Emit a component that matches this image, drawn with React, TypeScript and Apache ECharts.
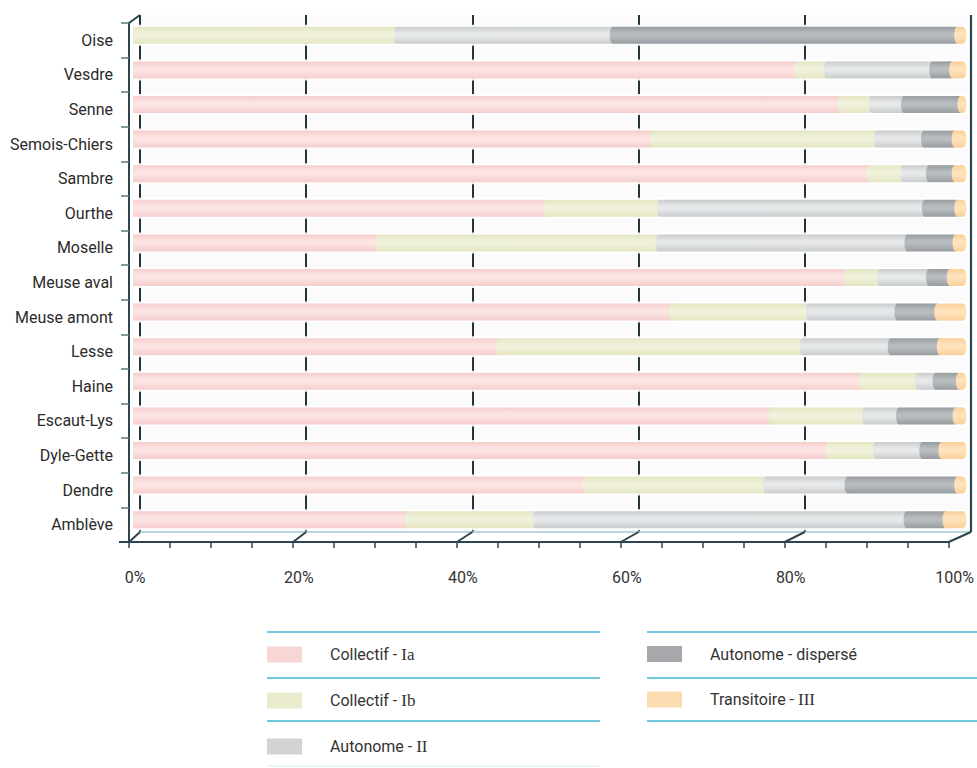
import React, { useEffect, useRef } from "react";
import * as echarts from "echarts";

// ---------- data (bottom to top) ----------
const categories = [
  "Amblève", "Dendre", "Dyle-Gette", "Escaut-Lys", "Haine", "Lesse", "Meuse amont",
  "Meuse aval", "Moselle", "Ourthe", "Sambre", "Semois-Chiers", "Senne", "Vesdre", "Oise",
];
const collectifIa = [33.1, 54.5, 83.8, 76.9, 87.8, 44.1, 64.9, 86.0, 29.6, 49.8, 88.7, 62.6, 85.2, 80.0, 0];
const collectifIb = [15.4, 21.8, 5.7, 11.3, 6.8, 36.6, 16.5, 4.0, 33.7, 13.7, 4.1, 27.0, 3.8, 3.6, 31.8];
const autonomeII = [44.7, 9.8, 5.6, 4.1, 2.1, 10.6, 10.7, 5.9, 30.0, 31.9, 3.1, 5.7, 3.9, 12.7, 26.0];
const autonomeDisperse = [4.7, 13.2, 2.3, 6.8, 2.8, 5.9, 4.8, 2.5, 5.8, 3.9, 3.1, 3.7, 6.8, 2.4, 41.5];
const transitoireIII = [2.1, 0.7, 2.6, 0.9, 0.5, 2.8, 3.1, 1.6, 0.9, 0.7, 1.0, 1.0, 0.3, 1.3, 0.7];
const seriesNames = ["Collectif - Ia", "Collectif - Ib", "Autonome - II", "Autonome - dispersé", "Transitoire - III"];
const xTickValues = [0, 20, 40, 60, 80, 100];

// ---------- styles ----------
const LEGEND_COLORS = ["#f8d6d6", "#e9ebcc", "#d3d3d4", "#a6a8ab", "#fddbb0"];
const SHADES = [
  { edge: "#f6cdcd", mid: "#fce4e4" },
  { edge: "#e4e6c2", mid: "#f0f1da" },
  { edge: "#c9ccce", mid: "#e6e8e9" },
  { edge: "#979ca0", mid: "#b8bcbf" },
  { edge: "#fbcf98", mid: "#fee2bd" },
];
const FRONT = { left: 129, top: 23, width: 832, height: 519 };
const BACK = { left: 140, top: 15, width: 831, height: 517 };
const BARS = { left: 133, top: 18, width: 830, height: 519 };
const BAR_H = 17;
const DARK = "#2c4550";
const FONT = "Roboto";

function shadeFill(i: number) {
  const s = SHADES[i];
  return new echarts.graphic.LinearGradient(0, 0, 0, 1, [
    { offset: 0, color: s.edge },
    { offset: 0.38, color: s.mid },
    { offset: 0.55, color: s.mid },
    { offset: 1, color: s.edge },
  ]);
}

function makeRender(layer: number, last: boolean) {
  return (_params: any, api: any) => {
    const cat = api.value(0);
    const v0 = api.value(1);
    const v1 = api.value(2);
    const a = api.coord([v0, cat]);
    const b = api.coord([v1, cat]);
    const w = b[0] - a[0];
    if (!(w > 0)) return { type: "group", children: [] };
    const cy = a[1];
    const fill = shadeFill(layer);
    const children: any[] = [
      { type: "rect", shape: { x: a[0], y: cy - BAR_H / 2, width: w, height: BAR_H }, style: { fill } },
    ];
    if (v0 > 0) {
      children.push({ type: "ellipse", shape: { cx: a[0], cy, rx: 3, ry: BAR_H / 2 }, style: { fill } });
    }
    if (last) {
      children.push({ type: "ellipse", shape: { cx: b[0], cy, rx: 3.5, ry: BAR_H / 2 }, style: { fill } });
    }
    return { type: "group", children };
  };
}

function renderHalo(_params: any, api: any) {
  const cat = api.value(0);
  const a = api.coord([api.value(1), cat]);
  const b = api.coord([api.value(2), cat]);
  return {
    type: "rect",
    shape: { x: a[0] - 2, y: a[1] - BAR_H / 2 - 2, width: b[0] - a[0] + 7, height: BAR_H + 4, r: 3 },
    style: { fill: "rgba(255,255,255,0.92)" },
  };
}

function legendFormatter(name: string) {
  const m = name.match(/^(.* - )([IV]+[a-z]?)$/);
  return m ? `${m[1]}{s|${m[2]}}` : name;
}

export default function App() {
  const ref = useRef<HTMLDivElement>(null);
  useEffect(() => {
    if (!ref.current) return;
    const chart = echarts.init(ref.current, null, { renderer: "svg" });
    const layers = [collectifIa, collectifIb, autonomeII, autonomeDisperse, transitoireIII];
    const starts = categories.map(() => 0);
    const layerData = layers.map((arr) =>
      arr.map((v, i) => {
        const s = starts[i];
        starts[i] = s + v;
        return [i, s, s + v];
      })
    );
    const haloData = categories.map((_, i) => [i, 0, starts[i]]);

    const legendBase = {
      orient: "vertical",
      padding: 0,
      itemWidth: 35,
      itemHeight: 16,
      itemGap: 29,
      icon: "rect",
      selectedMode: false,
      formatter: legendFormatter,
      textStyle: {
        fontFamily: FONT,
        fontSize: 16,
        color: "#333",
        lineHeight: 16,
        padding: [0, 0, 0, 23],
        rich: { s: { fontFamily: "Liberation Serif", fontSize: 17, color: "#333", lineHeight: 16 } },
      },
    };

    const option: any = {
      animation: false,
      backgroundColor: "#ffffff",
      textStyle: { fontFamily: FONT },
      grid: [
        { ...FRONT },
        { ...BACK, show: true, backgroundColor: "#fbfbfb", borderWidth: 0 },
        { ...BARS },
      ],
      xAxis: [
        {
          gridIndex: 0, type: "value", min: 0, max: 100, interval: 20,
          axisLine: { show: true, lineStyle: { color: DARK, width: 2 } },
          axisTick: { show: true, length: 6, lineStyle: { color: DARK, width: 1.5 } },
          minorTick: { show: true, splitNumber: 4, length: 6, lineStyle: { color: DARK, width: 1.5 } },
          splitLine: { show: false },
          axisLabel: { formatter: "{value}%", margin: 27, fontSize: 16, color: "#333", padding: [0, 0, 0, 12] },
        },
        {
          gridIndex: 1, type: "value", min: 0, max: 100, interval: 20,
          axisLine: { show: true, lineStyle: { color: "#a6c9d4", width: 1.5 } },
          axisTick: { show: false }, axisLabel: { show: false },
          splitLine: { show: true, showMaxLine: false, lineStyle: { color: "#24343b", width: 2 } },
        },
        { gridIndex: 2, type: "value", min: 0, max: 100, show: false },
      ],
      yAxis: [
        {
          gridIndex: 0, type: "category", data: categories,
          axisLine: { show: true, lineStyle: { color: DARK, width: 2 } },
          axisTick: { show: true, length: 8, lineStyle: { color: "#5c7782", width: 1.5 } },
          axisLabel: { margin: 16, fontSize: 16, color: "#2b2b2b", padding: [4, 0, 0, 0] },
        },
        { gridIndex: 1, type: "category", data: categories, show: false },
        { gridIndex: 2, type: "category", data: categories, show: false },
      ],
      legend: [
        {
          ...legendBase, left: 267, top: 646,
          data: seriesNames.slice(0, 3).map((n, i) => ({ name: n, itemStyle: { color: LEGEND_COLORS[i] } })),
        },
        {
          ...legendBase, left: 647, top: 646,
          data: seriesNames.slice(3).map((n, i) => ({ name: n, itemStyle: { color: LEGEND_COLORS[i + 3] } })),
        },
      ],
      series: [
        {
          type: "custom", name: "halo", xAxisIndex: 2, yAxisIndex: 2, silent: true,
          renderItem: renderHalo, data: haloData, encode: { x: [1, 2], y: 0 }, z: 3,
        },
        ...seriesNames.map((name, k) => ({
          type: "custom", name, xAxisIndex: 2, yAxisIndex: 2,
          itemStyle: { color: LEGEND_COLORS[k] },
          renderItem: makeRender(k, k === seriesNames.length - 1),
          data: layerData[k], encode: { x: [1, 2], y: 0 }, z: 4,
        })),
      ],
    };
    chart.setOption(option);

    const fx = (v: number) => chart.convertToPixel({ xAxisIndex: 0 }, v) as number;
    const bx = (v: number) => chart.convertToPixel({ xAxisIndex: 1 }, v) as number;
    const fBottom = FRONT.top + FRONT.height;
    const bBottom = BACK.top + BACK.height;
    const lineEl = (x1: number, y1: number, x2: number, y2: number, color: string, width: number) => ({
      type: "line", silent: true, z: 10,
      shape: { x1, y1, x2, y2 },
      style: { stroke: color, lineWidth: width },
    });
    const graphics: any[] = [];
    xTickValues.forEach((v) => graphics.push(lineEl(fx(v), fBottom, bx(v), bBottom, DARK, 2)));
    graphics.push(lineEl(bx(100), BACK.top, bx(100), bBottom, DARK, 2.2));
    graphics.push(lineEl(FRONT.left, FRONT.top, BACK.left, BACK.top, DARK, 2));
    graphics.push(lineEl(FRONT.left - 10, fBottom, FRONT.left, fBottom, DARK, 2));
    // legend separators
    [632, 678, 721].forEach((y) => {
      graphics.push(lineEl(267, y, 600, y, "#3fb6d6", 1.5));
      graphics.push(lineEl(647, y, 977, y, "#3fb6d6", 1.5));
    });
    graphics.push(lineEl(267, 766, 600, 766, "#e0f1f5", 1.5));
    chart.setOption({ graphic: graphics });

    return () => chart.dispose();
  }, []);
  return <div ref={ref} style={{ position: "absolute", left: 0, top: 0, width: 977, height: 768 }} />;
}
